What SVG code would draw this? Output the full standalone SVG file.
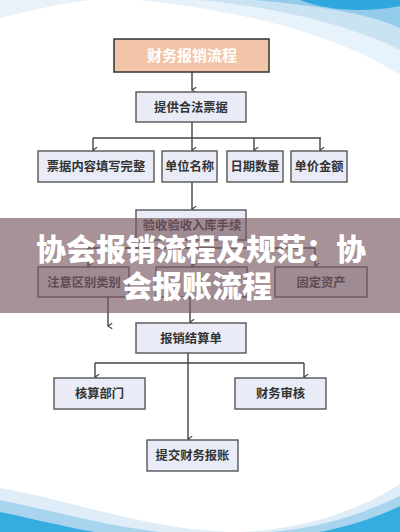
<svg xmlns="http://www.w3.org/2000/svg" width="400" height="532" viewBox="0 0 400 532">
<defs>
<marker id="ah" viewBox="0 0 10 10" refX="5" refY="9" markerWidth="7" markerHeight="7" orient="auto-start-reverse" markerUnits="userSpaceOnUse">
<path d="M1,3 L5,9 L9,3" fill="none" stroke="#444" stroke-width="1.6"/>
</marker>
<style>
.box{fill:#e9ecf7;stroke:#555;stroke-width:1.4}
.lbl{font-family:"Noto Sans CJK SC","Noto Sans",sans-serif;font-size:12.3px;font-weight:bold;fill:#333;text-anchor:middle}
.ln{fill:none;stroke:#444;stroke-width:1.4}
.ar{fill:none;stroke:#444;stroke-width:1.4;marker-end:url(#ah)}
.ov{font-family:"Noto Sans CJK SC","Noto Sans",sans-serif;font-size:30px;font-weight:900;fill:#fff;text-anchor:middle}
</style>
</defs>
<rect width="400" height="532" fill="#fff"/>
<g id="bg">
<path d="M0,0 L0,18 C30,10 60,4 90,0 Z" fill="#e9f2f8"/>
<path d="M140,0 C230,10 330,30 400,75 L400,0 Z" fill="#e8f2fa"/>
<path d="M200,0 C280,8 350,25 400,50 L400,0 Z" fill="#c9e3f3"/>
<path d="M255,0 C320,6 370,14 400,28 L400,0 Z" fill="#93cbeb"/>
<path d="M300,0 C330,12 370,12 400,6 L400,0 Z" fill="#2ea8df"/>
<path d="M0,488 C70,500 150,530 230,532 C300,532 360,510 400,484 L400,532 L0,532 Z" fill="#deedf8"/>
<path d="M0,500 C50,510 100,525 160,532 L0,532 Z" fill="#a9d4ee"/>
<path d="M400,496 C360,515 320,528 270,532 L400,532 Z" fill="#a9d4ee"/>
<path d="M0,512 C30,518 60,526 95,532 L0,532 Z" fill="#36ade1"/>
<path d="M400,506 C380,516 350,526 320,532 L400,532 Z" fill="#36ade1"/>
</g>
<g id="connectors">
<path class="ar" d="M192,72 V90"/>
<path class="ln" d="M192,122 V138 M93,138 H321"/>
<path class="ar" d="M93,138 V150"/>
<path class="ar" d="M192,138 V150"/>
<path class="ar" d="M254,138 V150"/>
<path class="ar" d="M320,138 V150"/>
<path class="ar" d="M192,182 V209"/>
<path class="ln" d="M192,240 V248 M88,248 H315"/>
<path class="ar" d="M88,248 V266"/>
<path class="ar" d="M192,248 V266"/>
<path class="ar" d="M315,248 V266"/>
<path class="ar" d="M190,297 V322"/>
<path class="ar" d="M108,297 V326"/>
<path class="ln" d="M188,353 V363 M95,363 H304"/>
<path class="ar" d="M95,363 V377"/>
<path class="ar" d="M304,363 V377"/>
<path class="ar" d="M188,363 V439"/>
</g>
<g id="n-title">
<rect x="114" y="39" width="155" height="33" fill="#f3c5a8" stroke="#333" stroke-width="1.5"/>
<text x="192" y="61" font-family="Noto Sans CJK SC,Noto Sans,sans-serif" font-size="15px" font-weight="bold" fill="#fff" text-anchor="middle">财务报销流程</text>
</g>
<g id="n1"><rect class="box" x="136" y="92" width="110" height="30"/><text class="lbl" x="191" y="112">提供合法票据</text></g>
<g id="n2"><rect class="box" x="38" y="151" width="116" height="31"/><text class="lbl" x="96" y="171">票据内容填写完整</text></g>
<g id="n3"><rect class="box" x="162" y="151" width="55" height="31"/><text class="lbl" x="189.5" y="171">单位名称</text></g>
<g id="n4"><rect class="box" x="227" y="151" width="56" height="31"/><text class="lbl" x="255" y="171">日期数量</text></g>
<g id="n5"><rect class="box" x="291" y="151" width="56" height="31"/><text class="lbl" x="319" y="171">单价金额</text></g>
<g id="n6"><rect class="box" x="136" y="210" width="110" height="30"/><text class="lbl" x="192" y="230" font-weight="normal">验收验收入库手续</text></g>
<g id="n7"><rect class="box" x="38" y="267" width="91" height="30"/><text class="lbl" x="84" y="287" font-weight="normal">注意区别类别</text></g>
<g id="n8"><rect class="box" x="156" y="267" width="91" height="30"/></g>
<g id="n9"><rect class="box" x="275" y="267" width="92" height="30"/><text class="lbl" x="321" y="287" font-weight="normal">固定资产</text></g>
<g id="n10"><rect class="box" x="136" y="323" width="110" height="30"/><text class="lbl" x="191" y="343">报销结算单</text></g>
<g id="n11"><rect class="box" x="54" y="378" width="91" height="31"/><text class="lbl" x="99.5" y="398">核算部门</text></g>
<g id="n12"><rect class="box" x="235" y="378" width="91" height="31"/><text class="lbl" x="280.5" y="398">财务审核</text></g>
<g id="n13"><rect class="box" x="147" y="440" width="91" height="31"/><text class="lbl" x="192.5" y="460">提交财务报账</text></g>
<g id="overlay">
<rect x="0" y="218" width="400" height="95" fill="#785860" opacity="0.65"/>
<text class="ov" x="201" y="260">协会报销流程及规范：协</text>
<text class="ov" x="197" y="297">会报账流程</text>
</g>
</svg>
